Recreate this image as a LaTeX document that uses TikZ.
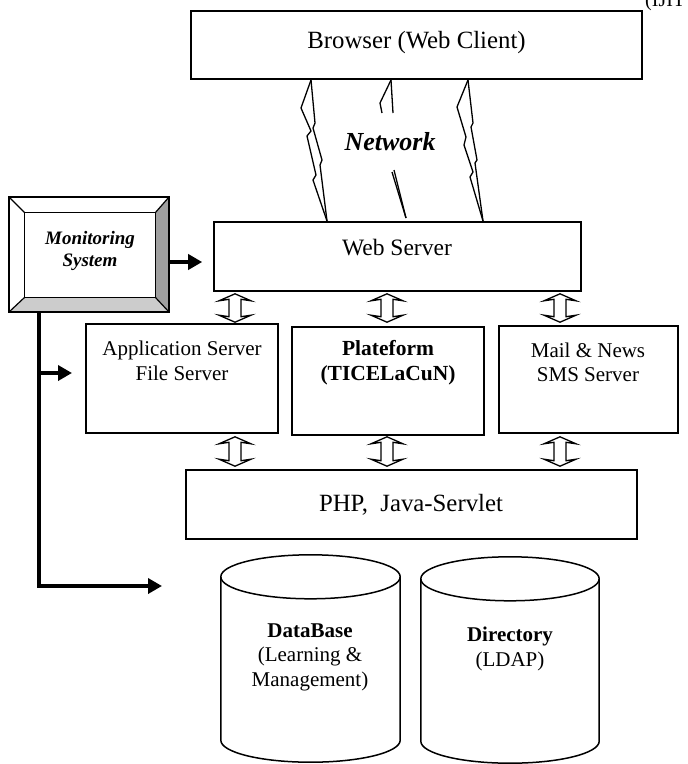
\documentclass[tikz,border=0pt]{standalone}
\usepackage{fontspec}
\setmainfont{Liberation Serif}
\usetikzlibrary{arrows.meta,calc}
\tikzset{
  box/.style={draw, line width=1.6pt, rectangle, inner sep=0pt},
  lbl/.style={align=center, inner sep=0pt, font=\fontsize{23.5}{27}\selectfont},
  lblbig/.style={align=center, inner sep=0pt, font=\fontsize{24.8}{28}\selectfont},
  lblsm/.style={align=center, inner sep=0pt, font=\fontsize{21}{24.5}\selectfont},
  bolt/.style={line width=1.3pt, line join=miter},
  hollow/.style={draw, line width=1.3pt, fill=white, line join=miter},
  thickarrow/.style={line width=3.6pt, -{Triangle[length=14pt,width=15pt]}},
  cylline/.style={line width=1.5pt},
}
\newcommand\hollowdbl[2]{%
  \draw[hollow] let \p1=(#1), \p2=(#2) in
    (\x1,\y1) -- (\x1+16pt,\y1-7pt) -- (\x1+6pt,\y1-5.5pt) -- (\x1+6pt,\y2+5.5pt)
    -- (\x1+16pt,\y2+7pt) -- (\x1,\y2) -- (\x1-16pt,\y2+7pt) -- (\x1-6pt,\y2+5.5pt)
    -- (\x1-6pt,\y1-5.5pt) -- (\x1-16pt,\y1-7pt) -- cycle;}
\newcommand\cylsides[1]{%
  \draw[cylline] ([yshift=-22pt]#1.north west) -- ([yshift=22pt]#1.south west)
    let \p1=($(#1.east)-(#1.west)$) in
    arc[start angle=180,end angle=360,x radius=0.5*\x1,y radius=22pt]
    -- ([yshift=-22pt]#1.north east);
  \draw[cylline] let \p1=($(#1.east)-(#1.west)$) in
    ([yshift=-22pt]#1.north) ellipse[x radius=0.5*\x1,y radius=22pt];}
\begin{document}
\begin{tikzpicture}[x=1pt,y=-1pt]
\useasboundingbox (0,0) rectangle (688,764);

% header fragment
\node[anchor=base west, inner sep=0pt, font=\fontsize{20}{24}\selectfont] (hdr) at (645,6) {(IJIT};

% boxes
\node[box, minimum width=451, minimum height=68] (browser) at (416.5,45) {};
\node[lblbig] (browsertxt) at (416.5,43) {Browser (Web Client)};

\node[box, minimum width=367, minimum height=69] (web) at (397.5,256.5) {};
\node[lbl] (webtxt) at (397,248) {Web Server};

\node[box, minimum width=192, minimum height=109] (app) at (182,378.5) {};
\node[lblsm] (apptxt) at (182,361) {Application Server\\File Server};

\node[box, minimum width=192, minimum height=108] (plat) at (388,381) {};
\node[lblsm, font=\fontsize{21.5}{25}\selectfont\bfseries] (plattxt) at (388,362.5) {Plateform\\(TICELaCuN)};

\node[box, minimum width=179, minimum height=107] (mail) at (588.5,379.5) {};
\node[lblsm] (mailtxt) at (588,362.5) {Mail \& News\\SMS Server};

\node[box, minimum width=451, minimum height=69] (php) at (411.5,504.5) {};
\node[lblbig] (phptxt) at (411,505) {PHP,\ \ Java-Servlet};

% network bolts
\draw[bolt] (311,80) -- (301,108) -- (311,131) -- (307,136) -- (316,175) -- (313,180) -- (327,221);
\draw[bolt] (311,80) -- (315,123) -- (313,128) -- (322,160) -- (320,165) -- (327,221);
\draw[bolt] (468,80) -- (457,107) -- (466,137) -- (464,145) -- (473,172) -- (470,177) -- (483,221);
\draw[bolt] (468,80) -- (473,123) -- (471,127) -- (477,160) -- (475,163) -- (483,221);
\draw[bolt] (391,80) -- (380,103) -- (382,113);
\draw[bolt] (391,80) -- (393,113);
\draw[bolt] (392,172) -- (406,218);
\draw[bolt] (394,170) -- (406,218);
\node[inner sep=0pt, font=\fontsize{26}{30}\selectfont\bfseries\itshape] (net) at (390,142) {Network};

% hollow double arrows
\coordinate (ax1) at (235,0);
\coordinate (ax2) at (387,0);
\coordinate (ax3) at (560,0);
\hollowdbl{[yshift=-2pt]web.south -| ax1}{[yshift=1pt]app.north -| ax1}
\hollowdbl{[yshift=-2pt]web.south -| ax2}{[yshift=4pt]plat.north -| ax2}
\hollowdbl{[yshift=-2pt]web.south -| ax3}{[yshift=3pt]mail.north -| ax3}
\hollowdbl{[yshift=-3pt]app.south -| ax1}{[yshift=3pt]php.north -| ax1}
\hollowdbl{[yshift=-1pt]plat.south -| ax2}{[yshift=3pt]php.north -| ax2}
\hollowdbl{[yshift=-3pt]mail.south -| ax3}{[yshift=3pt]php.north -| ax3}

% cylinders
\node[minimum width=179, minimum height=207, inner sep=0pt] (db) at (310.5,658.5) {};
\cylsides{db}
\node[lblsm] (dbtxt) at (310,657) {\textbf{DataBase}\\(Learning \&\\Management)};
\node[minimum width=178, minimum height=206, inner sep=0pt] (dir) at (510,660) {};
\cylsides{dir}
\node[lblsm] (dirtxt) at (510,649) {\textbf{Directory}\\(LDAP)};

% monitoring system (bevelled box)
\node[minimum width=160, minimum height=115, inner sep=0pt] (mon) at (89,254.5) {};
\coordinate (mi1) at ([shift={(16,16)}]mon.north west);
\coordinate (mi2) at ([shift={(-14,16)}]mon.north east);
\coordinate (mi3) at ([shift={(-14,-15)}]mon.south east);
\coordinate (mi4) at ([shift={(16,-15)}]mon.south west);
\fill[white] (mon.north west) rectangle (mon.south east);
\fill[gray!75] (mon.north east) -- (mon.south east) -- (mi3) -- (mi2) -- cycle;
\fill[gray!40] (mon.south west) -- (mon.south east) -- (mi3) -- (mi4) -- cycle;
\draw[line width=1.2pt] (mon.north west) -- (mi1) (mon.north east) -- (mi2)
  (mon.south east) -- (mi3) (mon.south west) -- (mi4);
\draw[line width=1.3pt] (mi1) -- (mi2) -- (mi3) -- (mi4) -- cycle;
\draw[line width=2pt] (mon.north west) rectangle (mon.south east);
\node[align=center, inner sep=0pt, font=\fontsize{19}{22}\selectfont\bfseries\itshape] (montxt) at (90,251) {Monitoring\\System};

% monitoring arrows
\draw[thickarrow, shorten >=11pt] ([yshift=-7.5pt]mon.east) -- ([yshift=-7.5pt]mon.east -| web.west);
\coordinate (mv) at ([xshift=-50pt]mon.south);
\coordinate (mc) at (39,586);
\coordinate (dbin) at (162,586);
\coordinate (mbr) at (39,373);
\coordinate (abr) at (72,373);
\draw[thickarrow, line join=miter] (mv) -- (mc) -- (dbin);
\draw[thickarrow] (mbr) -- (abr);
\end{tikzpicture}
\end{document}
